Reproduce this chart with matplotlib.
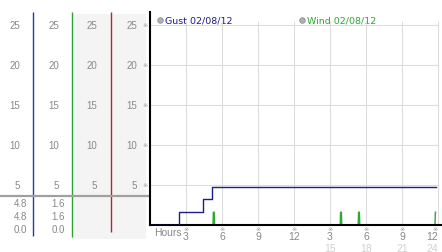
import matplotlib
matplotlib.use("Agg")
import matplotlib.pyplot as plt
from matplotlib.transforms import blended_transform_factory

plt.rcParams['font.family'] = ['Liberation Sans', 'DejaVu Sans']

# gust: step line (hours, mph)
gust_hours = [0, 2.4, 4.4, 5.2, 23.8]
gust_vals = [0, 1.6, 3.2, 4.8, 4.8]

# wind: flat with a few short spikes
wind_hours = [0, 5.25, 5.28, 5.35, 5.38, 15.85, 15.88, 15.95, 15.98,
              17.35, 17.38, 17.45, 17.48, 23.75, 23.78, 23.8]
wind_vals = [0, 0, 1.6, 1.6, 0, 0, 1.6, 1.6, 0,
             0, 1.6, 1.6, 0, 0, 1.6, 1.6]

y_ticks = [5, 10, 15, 20, 25]
x_ticks = [3, 6, 9, 12, 15, 18, 21, 24]
x_labels = ["3", "6", "9", "12", "3", "6", "9", "12"]
x_labels2 = {15: "15", 18: "18", 21: "21", 24: "24"}

gust_stats = ["4.8", "4.8", "0.0"]
wind_stats = ["1.6", "1.6", "0.0"]

gust_color = "#1c1c8c"
wind_color = "#2ea82e"
txt_gray = "#888888"

W, H = 442, 253
fig = plt.figure(figsize=(W / 100, H / 100), dpi=100)

# overlay in pixel coords for the left panel and loose text
ov = fig.add_axes([0, 0, 1, 1], zorder=0)
ov.set_xlim(0, W)
ov.set_ylim(H, 0)
ov.axis("off")

# main chart
ax = fig.add_axes([150 / W, (H - 226) / H, (W - 150) / W, 213 / H], zorder=1)
ax.patch.set_alpha(0)
ax.set_xlim(0, (W - 150) / 12)
ax.set_ylim(0, 213 / 8)
for s in ["top", "right"]:
    ax.spines[s].set_visible(False)
ax.spines["left"].set_linewidth(1.5)
ax.spines["bottom"].set_linewidth(1.5)
ax.set_xticks([])
ax.set_yticks([])

# grid
ax.hlines(y_ticks, 0, 24, color="#dcdcdc", lw=0.8, zorder=0)
ax.vlines(x_ticks, 0, 25.5, color="#dcdcdc", lw=0.8, zorder=0)

ax.plot(wind_hours, wind_vals, color=wind_color, lw=1.0, zorder=2)
ax.plot(gust_hours, gust_vals, color=gust_color, lw=1.0, drawstyle="steps-post", zorder=3)

# left panel: column backgrounds and separators
ov.fill_between([72, 146], 15, 240, color="#f4f4f4", lw=0)
ov.vlines(33, 13, 237, color="#2040a0", lw=1)
ov.vlines(72, 13, 238, color="#30a030", lw=1)
ov.vlines(111, 13, 233, color="#b02828", lw=1)
ov.hlines(197, 0, 149, color="#a0a0a0", lw=1.6)

ytr = blended_transform_factory(ov.transData, ax.transData)
for v in y_ticks:
    for xr in [20, 59, 97, 137]:
        ov.text(xr, v, str(v), transform=ytr, ha="right", va="center",
                fontsize=7, color=txt_gray)
    ov.text(145, v, "\u203b", transform=ytr, ha="center", va="center",
            fontsize=4.5, color="#999999", family="DejaVu Sans")

for i, (g, w) in enumerate(zip(gust_stats, wind_stats)):
    yy = 204 + i * 13
    ov.text(27, yy, g, ha="right", va="center", fontsize=7, color=txt_gray)
    ov.text(65, yy, w, ha="right", va="center", fontsize=7, color=txt_gray)

# x labels
xtr = blended_transform_factory(ax.transData, ov.transData)
for t, lab in zip(x_ticks, x_labels):
    last = t == x_ticks[-1]
    ha = "right" if last else "center"
    ov.text(t, 229.5, "\u203b", transform=xtr, ha=ha, va="center",
            fontsize=4.5, color="#999999", family="DejaVu Sans", clip_on=False)
    ov.text(t, 237, lab, transform=xtr, ha=ha, va="center",
            fontsize=7.5, color=txt_gray, clip_on=False)
    if t in x_labels2:
        ov.text(t, 249, x_labels2[t], transform=xtr, ha=ha, va="center",
                fontsize=7.5, color="#d0d0d0", clip_on=False)
ov.text(154, 233, "Hours", ha="left", va="center", fontsize=7.5, color=txt_gray)

# legend
ov.plot([160, 302], [21, 21], ls="none", marker="o", ms=4,
        mfc="#b0b0b0", mec="#909090", mew=0.6)
ov.text(165, 21, "Gust 02/08/12", ha="left", va="center", fontsize=6.8,
        color=gust_color, family="DejaVu Sans")
ov.text(307, 21, "Wind 02/08/12", ha="left", va="center", fontsize=6.8,
        color=wind_color, family="DejaVu Sans")

fig.savefig("out.png", dpi=100)
